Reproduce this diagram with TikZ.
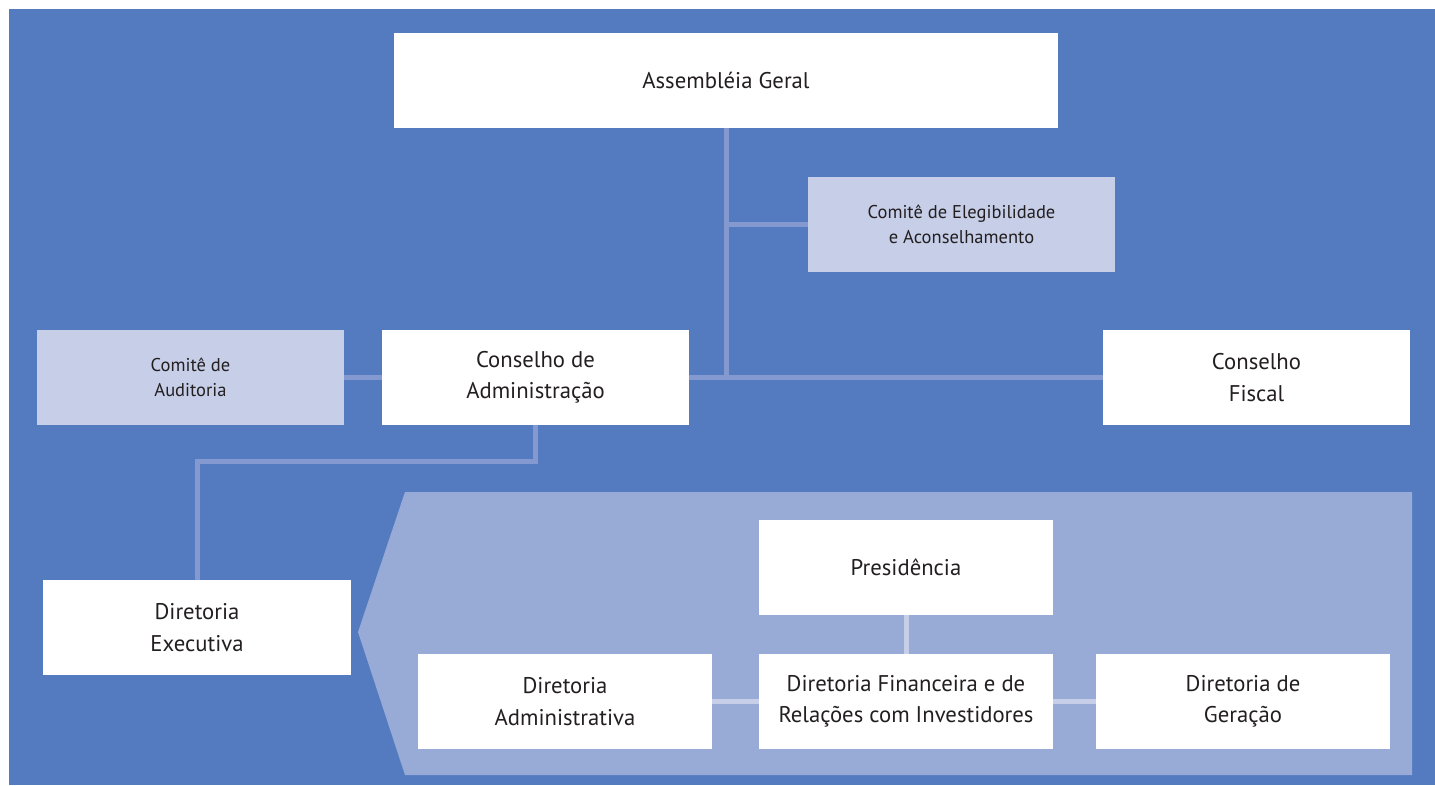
\documentclass[tikz,border=0pt]{standalone}
\usepackage{fontspec}
\setmainfont{PT Sans}
\definecolor{bgblue}{HTML}{547BC0}
\definecolor{lineblue}{HTML}{8499D0}
\definecolor{panelblue}{HTML}{98AAD6}
\definecolor{lightbox}{HTML}{C6CEE8}
\definecolor{txt}{HTML}{231F20}
\tikzset{
  wbox/.style={fill=white, draw=none, align=center, text=txt, font=\fontsize{22.7}{31.5}\selectfont, inner sep=0pt},
  lbox/.style={fill=lightbox, draw=none, align=center, text=txt, font=\fontsize{18.5}{25.5}\selectfont, inner sep=0pt},
  conn/.style={draw=lineblue, line width=5pt, line cap=butt},
  pconn/.style={draw=lightbox, line width=5pt, line cap=butt},
}
\begin{document}
\begin{tikzpicture}[x=1pt,y=-1pt]
\useasboundingbox (0,0) rectangle (1435,785);
\fill[bgblue] (9,9) rectangle (1435,785);
\fill[panelblue] (405,492) -- (1412,492) -- (1412,775) -- (405,775) -- (358,632) -- cycle;

\node[wbox, minimum width=664pt, minimum height=95pt] (ag) at (726,80.5) {\raisebox{-2pt}{Assembléia Geral}};
\node[lbox, minimum width=307pt, minimum height=95pt] (ce) at (961.5,224.5) {Comitê de Elegibilidade\\e Aconselhamento};
\node[lbox, minimum width=307pt, minimum height=95pt] (aud) at (190.5,377.5) {Comitê de\\Auditoria};
\node[wbox, minimum width=307pt, minimum height=95pt] (ca) at (535.5,377.5) {Conselho de\\Administração};
\node[wbox, minimum width=307pt, minimum height=95pt] (cf) at (1256.5,377.5) {Conselho\\Fiscal};
\node[wbox, minimum width=308pt, minimum height=95pt] (de) at (197,627.5) {Diretoria\\Executiva};
\node[wbox, minimum width=294pt, minimum height=95pt] (pres) at (906,567.5) {\raisebox{-2pt}{Presidência}};
\node[wbox, minimum width=294pt, minimum height=95pt] (dadm) at (565,701.5) {Diretoria\\Administrativa};
\node[wbox, minimum width=294pt, minimum height=95pt] (dfin) at (906,701.5) {Diretoria Financeira e de\\Relações com Investidores};
\node[wbox, minimum width=294pt, minimum height=95pt] (dger) at (1243,701.5) {Diretoria de\\Geração};

\coordinate (kink) at (0,461);
\draw[conn] (ag.south) -- (ag.south |- ca.east);
\draw[conn] (ag.south |- ce.west) -- (ce.west);
\draw[conn] (ca.east) -- (cf.west);
\draw[conn] (aud.east) -- (ca.west);
\draw[conn] (ca.south) |- (kink -| de.north) -- (de.north);
\draw[pconn] (pres.south) -- (dfin.north);
\draw[pconn] (dadm.east) -- (dfin.west);
\draw[pconn] (dfin.east) -- (dger.west);
\end{tikzpicture}
\end{document}
